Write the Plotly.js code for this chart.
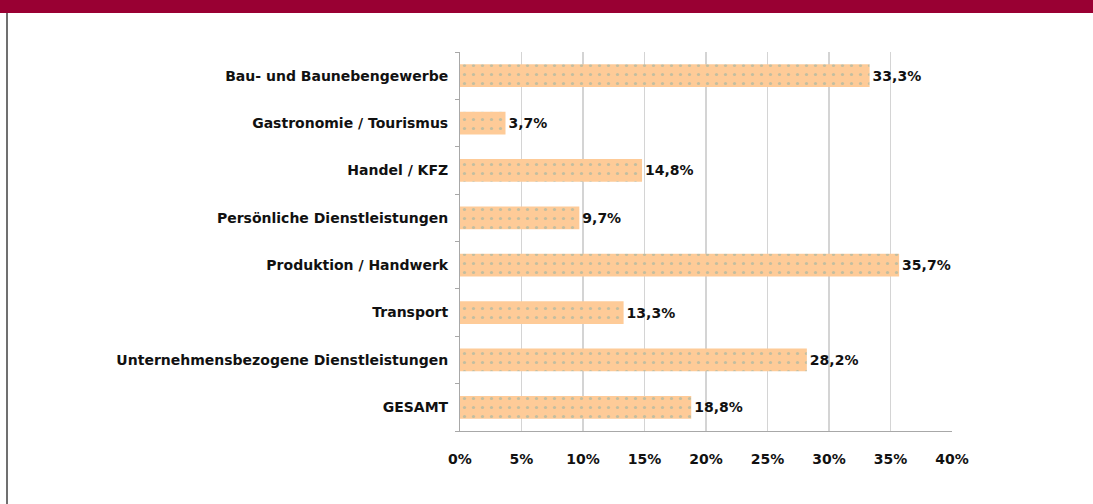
<!DOCTYPE html>
<html>
<head>
<meta charset="utf-8">
<script src="https://cdn.plot.ly/plotly-3.0.1.min.js"></script>
<style>
html,body{margin:0;padding:0;background:#fff;}
#chart{width:1093px;height:504px;}
</style>
</head>
<body>
<div id="chart"></div>
<script>
var categories = [
  "Bau- und Baunebengewerbe",
  "Gastronomie / Tourismus",
  "Handel / KFZ",
  "Persönliche Dienstleistungen",
  "Produktion / Handwerk",
  "Transport",
  "Unternehmensbezogene Dienstleistungen",
  "GESAMT"
];
var values = [33.3, 3.7, 14.8, 9.7, 35.7, 13.3, 28.2, 18.8];
var tickValues = [0, 5, 10, 15, 20, 25, 30, 35, 40];

var font = {family: "DejaVu Sans, sans-serif", size: 14, color: "#111"};

var trace = {
  type: "bar",
  orientation: "h",
  y: categories,
  x: values,
  texttemplate: "<b>%{x:.1f}%</b>",
  textposition: "outside",
  cliponaxis: false,
  textfont: font,
  marker: {
    color: "#FECB98",
    line: {width: 0},
    pattern: {shape: ".", fgcolor: "#c2bea0", bgcolor: "#FECB98", size: 9, solidity: 0.1, fillmode: "replace"}
  },
  hoverinfo: "none"
};

var layout = {
  width: 1093,
  height: 504,
  margin: {l: 460, r: 141, t: 52, b: 73},
  paper_bgcolor: "#ffffff",
  plot_bgcolor: "#ffffff",
  separators: ",.",
  showlegend: false,
  bargap: 0.52,
  font: font,
  xaxis: {
    range: [0, 40],
    tickvals: tickValues,
    ticktext: tickValues.map(function(v){return "<b>" + v + "%</b>";}),
    showgrid: true,
    gridcolor: "#d4d4d4",
    gridwidth: 1.5,
    showline: true,
    linecolor: "#a8a8a8",
    linewidth: 1,
    ticks: "",
    ticklabelstandoff: 15,
    zeroline: false,
    fixedrange: true
  },
  yaxis: {
    autorange: "reversed",
    type: "category",
    tickvals: categories,
    ticktext: categories.map(function(c){return "<b>" + c + "</b>";}),
    showline: true,
    linecolor: "#a8a8a8",
    linewidth: 1,
    ticks: "outside",
    tickson: "boundaries",
    ticklen: 4,
    tickcolor: "#a8a8a8",
    ticklabelstandoff: 8,
    showgrid: false,
    zeroline: false,
    fixedrange: true
  },
  shapes: [
    {type: "rect", xref: "paper", yref: "paper", x0: -460/492, x1: (1093-460)/492, y0: 1 + 39/379, y1: 1 + 52/379 + 1, fillcolor: "#990033", line: {width: 0}, layer: "above"},
    {type: "line", xref: "paper", yref: "paper", x0: -453/492, x1: -453/492, y0: -73/379, y1: 1 + 39/379, line: {color: "#707070", width: 2}}
  ]
};

Plotly.newPlot("chart", [trace], layout, {displayModeBar: false, staticPlot: true});
</script>
</body>
</html>
